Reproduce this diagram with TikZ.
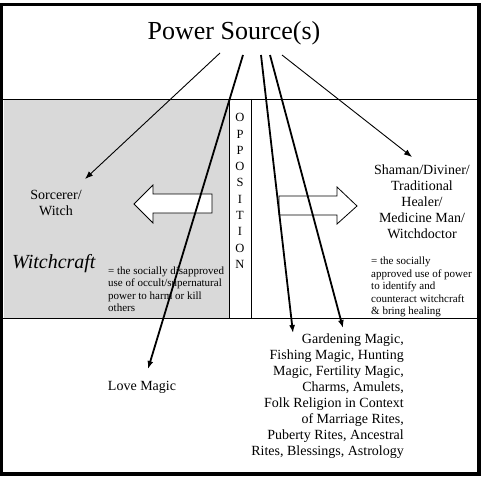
\documentclass[tikz,border=0pt]{standalone}
\usepackage{fontspec}
\setmainfont{Liberation Serif}
\usetikzlibrary{arrows.meta}
\begin{document}
\begin{tikzpicture}[x=1pt,y=-1pt,
  thinarrow/.style={line width=0.9pt,-{Latex[length=8pt,width=6pt]}},
  thickarrow/.style={line width=1.8pt,-{Latex[length=8pt,width=6pt]}},
  divider/.style={line width=0.8pt},
  blockarrow/.style={draw=black,fill=white,line width=0.8pt},
  big/.style={inner sep=0pt,font=\fontsize{14}{16}\selectfont,align=center},
  small/.style={inner sep=0pt,font=\fontsize{11}{12.5}\selectfont,align=left}]
\useasboundingbox (0,0) rectangle (481,476);
% background regions
\fill[gray!30] (4,100) rectangle (229,318);
\draw[divider] (0,99) -- (477,99);
\draw[divider] (0,318) -- (477,318);
\draw[divider] (229,99) -- (229,318);
\draw[divider] (251,99) -- (251,318);
% outer frame
\draw[line width=3.5pt] (1,4.5) rectangle (479,474);
% block arrows
\draw[blockarrow] (212,194) -- (153,194) -- (153,185) -- (134,204) -- (153,223) -- (153,213) -- (212,213) -- cycle;
\draw[blockarrow] (279,196) -- (337,196) -- (337,187) -- (357,206) -- (337,224) -- (337,215) -- (279,215) -- cycle;
% texts
\node[inner sep=0pt,font=\fontsize{26}{30}\selectfont] (ps) at (234,33) {Power Source(s)};
\node[inner sep=0pt,font=\fontsize{12.5}{16.3}\selectfont,align=center] (opp) at (240,191)
  {O\\P\\P\\O\\S\\I\\T\\I\\O\\N};
\node[big] (sorc) at (56,203) {Sorcerer/\\Witch};
\node[inner sep=0pt,font=\fontsize{20}{24}\selectfont\itshape,anchor=west] (wc) at (12,264) {Witchcraft};
\node[small,anchor=west] (wcdef) at (108,289) {= the socially disapproved\\use of occult/supernatural\\power to harm or kill\\others};
\node[big] (sham) at (422,202) {Shaman/Diviner/\\Traditional\\Healer/\\Medicine Man/\\Witchdoctor};
\node[small,anchor=west] (shdef) at (371,287) {= the socially\\approved use of power\\to identify and\\counteract witchcraft\\\& bring healing};
\node[big] (love) at (142,387) {Love Magic};
\node[big,align=right,anchor=east] (gard) at (404,396) {Gardening Magic,\\Fishing Magic, Hunting\\Magic, Fertility Magic,\\Charms, Amulets,\\Folk Religion in Context\\of Marriage Rites,\\Puberty Rites, Ancestral\\Rites, Blessings, Astrology};
% arrow end points
\coordinate (s1) at (220,53);
\coordinate (s2) at (243,55);
\coordinate (s3) at (261,55);
\coordinate (s4) at (270,55);
\coordinate (s5) at (282,55);
\coordinate (t1) at (85,179);
\coordinate (t2) at (148,369);
\coordinate (t3) at (293,333);
\coordinate (t4) at (343,328);
\coordinate (t5) at (412,157);
\draw[thinarrow] (s1) -- (t1);
\draw[thickarrow] (s2) -- (t2);
\draw[thickarrow] (s3) -- (t3);
\draw[thickarrow] (s4) -- (t4);
\draw[thinarrow] (s5) -- (t5);
\end{tikzpicture}
\end{document}
